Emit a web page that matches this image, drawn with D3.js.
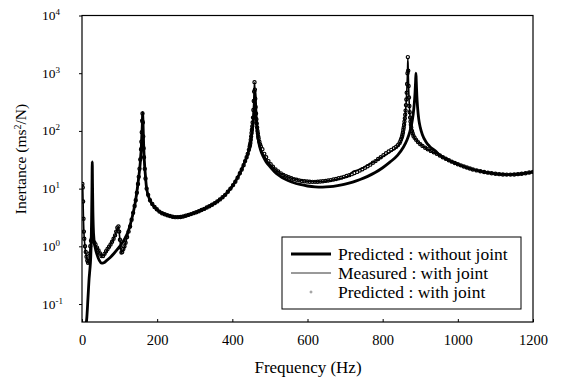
<!DOCTYPE html>
<html><head><meta charset="utf-8">
<script src="https://cdn.jsdelivr.net/npm/d3@7/dist/d3.min.js"></script>
<style>
html,body{margin:0;padding:0;background:#fff;}
svg{display:block;font-family:"Liberation Serif","Times New Roman",serif;}
</style></head>
<body>
<svg id="chart" width="565" height="379"></svg>
<script>
// ---- data (frequency Hz, inertance m s^-2 / N) ----
const xTicks = [0, 200, 400, 600, 800, 1000, 1200];
const yExponents = [-1, 0, 1, 2, 3, 4];
const seriesNames = ["Predicted : without joint", "Measured : with joint", "Predicted : with joint"];

const predictedWithoutJoint = [
 [10,0.04],[13,0.06],[16,0.13],[19,0.28],[21,0.4],[23,0.6],[24.5,1.2],[25.5,3],[26.5,10],[27.3,29],[28,12],[29,4],[30,2.2],
 [32,1.3],[35,0.95],[40,0.72],[46,0.57],[52,0.51],[58,0.52],[66,0.57],[75,0.64],[85,0.75],[95,0.9],[105,1.1],[115,1.4],
 [122,1.75],[130,2.6],[137,4],[143,6.5],[148,11],[152,18],[155,28],[157,42],[159,75],[160.5,130],[161.5,210],[162.5,130],
 [164,60],[166,30],[169,16],[172,10],[181,6.3],[193,4.8],[206,4.0],[220,3.6],[234,3.35],[248,3.2],[262,3.22],[276,3.38],
 [290,3.62],[304,3.9],[318,4.25],[332,4.7],[346,5.25],[360,6.0],[374,7.1],[388,8.8],[402,11.5],[414,15.5],[425,21.5],
 [434,30],[440,38],[446,52],[450,72],[453,100],[456,155],[458,230],[459.5,340],[460.5,500],[461.5,340],[463,200],[465,125],
 [467,88],[470,64],[475,47],[482,36],[490,29],[500,24],[512,19.7],[525,16.8],[540,14.6],[560,12.9],[580,11.8],[600,11.1],
 [620,10.7],[640,10.6],[660,10.8],[680,11.3],[700,12],[720,13],[740,14.4],[760,16.3],[780,19],[800,23],[820,29],[840,38],
 [855,52],[865,70],[872,95],[877,130],[881,190],[884,290],[886,450],[887.5,700],[888.5,1000],[889.5,700],[891,400],[893,250],
 [896,160],[900,115],[906,85],[915,65],[925,54],[940,45],[952,38],[968,33],[984,29.3],[1000,26.5],[1016,24.2],[1032,22.3],
 [1050,20.7],[1070,19.4],[1090,18.5],[1110,17.8],[1130,17.5],[1150,17.6],[1170,18.1],[1190,19],[1200,19.5]
];

const measuredWithJoint = [
 [1,12],[2,10],[3,5.5],[4,2.8],[5,1.8],[7,1.15],[9,0.85],[12,0.66],[15,0.54],[17,0.51],[19,0.6],[21,0.85],[24,1.2],
 [26,1.35],[29,1.25],[34,1.1],[40,0.95],[46,0.8],[52,0.68],[58,0.7],[66,0.85],[74,1.02],[82,1.28],[88,1.55],[93,2.0],
 [97,2.2],[100,1.5],[103,0.95],[105,0.78],[108,0.82],[114,1.0],[120,1.45],[128,2.2],[136,3.8],[143,6.3],[149,12],[153,22],
 [156,38],[158,65],[160,130],[161,200],[162,140],[164,50],[167,22],[172,10],[180,6.3],[190,5.0],[200,4.3],[215,3.7],
 [230,3.4],[250,3.2],[270,3.3],[290,3.6],[310,4.0],[330,4.6],[350,5.4],[370,6.6],[385,8.2],[400,11],[412,15],[422,20],
 [432,28],[440,38],[446,53],[450,80],[453,120],[455,170],[457,330],[458,480],[459,680],[460,500],[461,350],[462,255],
 [464,160],[466,115],[469,80],[473,60],[478,45],[485,37],[495,29],[505,24.5],[520,20],[540,16.7],[560,15],[580,14],
 [600,13.4],[620,13.2],[640,13.3],[660,13.8],[680,14.6],[700,15.8],[710,16.5],[716,18.5],[722,20],[730,20.5],[745,22.5],
 [760,25.5],[780,30],[800,36],[820,43],[837,52],[846,62],[852,80],[856,110],[859,160],[861,225],[863,350],[865,650],
 [866,1000],[867,1800],[868,1100],[869,600],[870,380],[872,210],[874,145],[877,110],[882,82],[889,70],[900,59],[913,51],
 [928,45],[944,40],[960,35],[976,31],[992,27.8],[1008,25.3],[1024,23.2],[1040,21.5],[1060,20],[1080,18.9],[1100,18.1],
 [1120,17.6],[1140,17.5],[1160,17.8],[1180,18.5],[1200,19.5]
];

const predictedWithJoint = [
 [1,12],[2,10.5],[3,6],[4,3],[5,1.8],[6,1.35],[8,1.0],[10,0.8],[12,0.66],[14,0.57],[16,0.52],[18,0.55],[20,0.75],[22,1.0],
 [24,1.25],[26,1.35],[28,1.3],[30,1.22],[33,1.15],[36,1.08],[40,0.95],[44,0.85],[48,0.75],[52,0.68],[56,0.68],[60,0.74],
 [64,0.82],[68,0.9],[72,0.98],[76,1.08],[80,1.2],[84,1.35],[88,1.55],[91,1.8],[94,2.1],[97,2.2],[99,1.8],[101,1.3],
 [103,0.95],[105,0.78],[107,0.8],[110,0.9],[113,1.0],[116,1.15],[120,1.45],[124,1.8],[128,2.2],[132,2.9],[136,3.8],[140,5],
 [143,6.3],[146,8.5],[149,12],[151,16],[153,22],[155,32],[157,48],[158,65],[159,95],[160,150],[161,200],[162,140],[163,80],
 [164,50],[165,35],[167,22],[169,15],[172,10],[176,7.8],[181,6.3],[187,5.4],[193,4.8],[199,4.4],[206,4.0],[213,3.75],
 [220,3.6],[227,3.45],[234,3.35],[241,3.25],[248,3.2],[255,3.2],[262,3.22],[269,3.28],[276,3.38],[283,3.5],[290,3.62],
 [297,3.76],[304,3.9],[311,4.05],[318,4.25],[325,4.45],[332,4.7],[339,4.95],[346,5.25],[353,5.6],[360,6.0],[367,6.5],
 [374,7.1],[381,7.8],[388,8.8],[395,10],[402,11.5],[408,13.2],[414,15.5],[420,18.5],[425,21.5],[430,25.5],[434,30],
 [438,35],[441,40],[444,47],[446,53],[447,57],[448,62],[449,70],[450,80],[451,92],[452,105],[453,120],[454,140],[455,170],
 [456,230],[457,330],[458,480],[459,700],[460,520],[461,360],[462,260],[463,200],[464,160],[465,135],[466,115],[467,100],
 [468,90],[469,80],[470,74],[472,65],[474,58],[476,53],[480,48],[485,40],[490,35],[496,30],[502,26.5],[508,24],[515,21.5],
 [522,19.8],[529,18.4],[536,17.3],[543,16.4],[550,15.7],[557,15.1],[564,14.6],[571,14.2],[578,13.9],[585,13.6],[592,13.4],
 [599,13.25],[606,13.15],[613,13.1],[620,13.1],[627,13.15],[634,13.25],[641,13.4],[648,13.6],[655,13.8],[662,14.05],
 [669,14.35],[676,14.7],[683,15.1],[690,15.5],[697,16],[704,16.5],[711,17.1],[718,17.8],[725,18.6],[732,19.5],[739,20.5],
 [746,21.6],[753,22.9],[760,24.4],[767,26],[774,28],[781,30],[788,32.5],[795,35],[802,38],[809,41],[816,44],[823,47],
 [830,50],[836,53],[841,57],[845,62],[847,66],[849,72],[851,78],[852,82],[853,88],[854,95],[855,105],[856,115],[857,128],
 [858,145],[859,165],[860,190],[861,225],[862,280],[863,350],[864,460],[865,650],[866,1000],[867,1900],[868,1100],
 [869,600],[870,380],[871,270],[872,210],[873,170],[874,145],[875,128],[876,115],[878,100],[880,90],[882,82],[885,76],
 [889,70],[894,64],[900,59],[906,55],[913,51],[920,48],[928,45],[936,42.5],[944,40],[952,37.5],[960,35],[968,33],[976,31],
 [984,29.3],[992,27.8],[1000,26.5],[1008,25.3],[1016,24.2],[1024,23.2],[1032,22.3],[1040,21.5],[1050,20.7],[1060,20],
 [1070,19.4],[1080,18.9],[1090,18.5],[1100,18.1],[1110,17.8],[1120,17.6],[1130,17.5],[1140,17.5],[1150,17.6],[1160,17.8],
 [1170,18.1],[1180,18.5],[1190,19],[1200,19.5]
];

// ---- layout ----
const L = 82, R = 533, T = 15.5, B = 322;
const svg = d3.select("#chart");
const x = d3.scaleLinear().domain([0, 1200]).range([L, R]);
const y = d3.scaleLog().domain([0.0488, 1e4]).range([B, T]);

svg.append("defs").append("clipPath").attr("id", "plotclip")
  .append("rect").attr("x", L).attr("y", T).attr("width", R - L).attr("height", B - T);

const line = d3.line().x(d => x(d[0])).y(d => y(d[1])).curve(d3.curveMonotoneX);
const plot = svg.append("g").attr("clip-path", "url(#plotclip)");

// predicted with joint: open circles
plot.append("g").selectAll("circle").data(predictedWithJoint).join("circle")
  .attr("cx", d => x(d[0])).attr("cy", d => y(d[1])).attr("r", 1.6)
  .attr("fill", "#fff").attr("stroke", "#000").attr("stroke-width", 1.2);

// measured with joint: line
plot.append("path").datum(measuredWithJoint).attr("d", line)
  .attr("fill", "none").attr("stroke", "#000").attr("stroke-width", 1.6);

// predicted without joint: thick line
plot.append("path").datum(predictedWithoutJoint).attr("d", line)
  .attr("fill", "none").attr("stroke", "#000").attr("stroke-width", 2.8).attr("stroke-linejoin", "round");

// ---- frame ----
svg.append("rect").attr("x", L).attr("y", T).attr("width", R - L).attr("height", B - T)
  .attr("fill", "none").attr("stroke", "#000").attr("stroke-width", 1.2);

// x axis (ticks inward)
const xAxis = d3.axisBottom(x).tickValues(xTicks).tickSize(-3).tickFormat(d3.format("d"));
const gx = svg.append("g").attr("transform", `translate(0,${B})`).call(xAxis);
gx.select(".domain").remove();
gx.selectAll("line").attr("stroke", "#000");
gx.selectAll("text").attr("font-family", "Liberation Serif").attr("font-size", 14.5)
  .attr("fill", "#000").attr("y", 23).attr("dy", 0);

// y axis (ticks outward), labels as 10^n
const yTickVals = yExponents.map(e => Math.pow(10, e));
const yAxis = d3.axisLeft(y).tickValues(yTickVals).tickSize(3).tickFormat("");
const gy = svg.append("g").attr("transform", `translate(${L},0)`).call(yAxis);
gy.select(".domain").remove();
gy.selectAll("line").attr("stroke", "#000");
const ylab = svg.append("g").selectAll("text").data(yExponents).join("text")
  .attr("x", 42).attr("y", e => y(Math.pow(10, e)) + 4.5)
  .attr("font-size", 13.5).attr("fill", "#000");
ylab.append("tspan").text("10");
ylab.append("tspan").attr("dy", -5).attr("font-size", 9).text(e => e < 0 ? "-" + Math.abs(e) : e);

// axis titles
svg.append("text").attr("x", 308).attr("y", 373).attr("text-anchor", "middle")
  .attr("font-size", 17).attr("fill", "#000").text("Frequency (Hz)");
const yt = svg.append("text").attr("transform", "translate(26,159) rotate(-90)")
  .attr("text-anchor", "middle").attr("font-size", 15.5).attr("fill", "#000");
yt.append("tspan").text("Inertance (ms");
yt.append("tspan").attr("dy", -5).attr("font-size", 10).text("2");
yt.append("tspan").attr("dy", 5).text("/N)");

// ---- legend ----
const lg = svg.append("g");
lg.append("rect").attr("x", 282).attr("y", 237).attr("width", 239).attr("height", 72)
  .attr("fill", "#fff").attr("stroke", "#000").attr("stroke-width", 1);
const rows = [254, 273, 292];
lg.append("line").attr("x1", 291).attr("x2", 331).attr("y1", rows[0]).attr("y2", rows[0])
  .attr("stroke", "#000").attr("stroke-width", 2.8);
lg.append("line").attr("x1", 291).attr("x2", 331).attr("y1", rows[1]).attr("y2", rows[1])
  .attr("stroke", "#000").attr("stroke-width", 0.8);
lg.append("circle").attr("cx", 311).attr("cy", rows[2]).attr("r", 1)
  .attr("fill", "#fff").attr("stroke", "#666").attr("stroke-width", 0.7);
lg.selectAll("text.lt").data(seriesNames).join("text").attr("class", "lt")
  .attr("x", 338).attr("y", (d, i) => rows[i] + 5.5)
  .attr("font-size", 17.5).attr("fill", "#000").text(d => d);
</script>
</body></html>
